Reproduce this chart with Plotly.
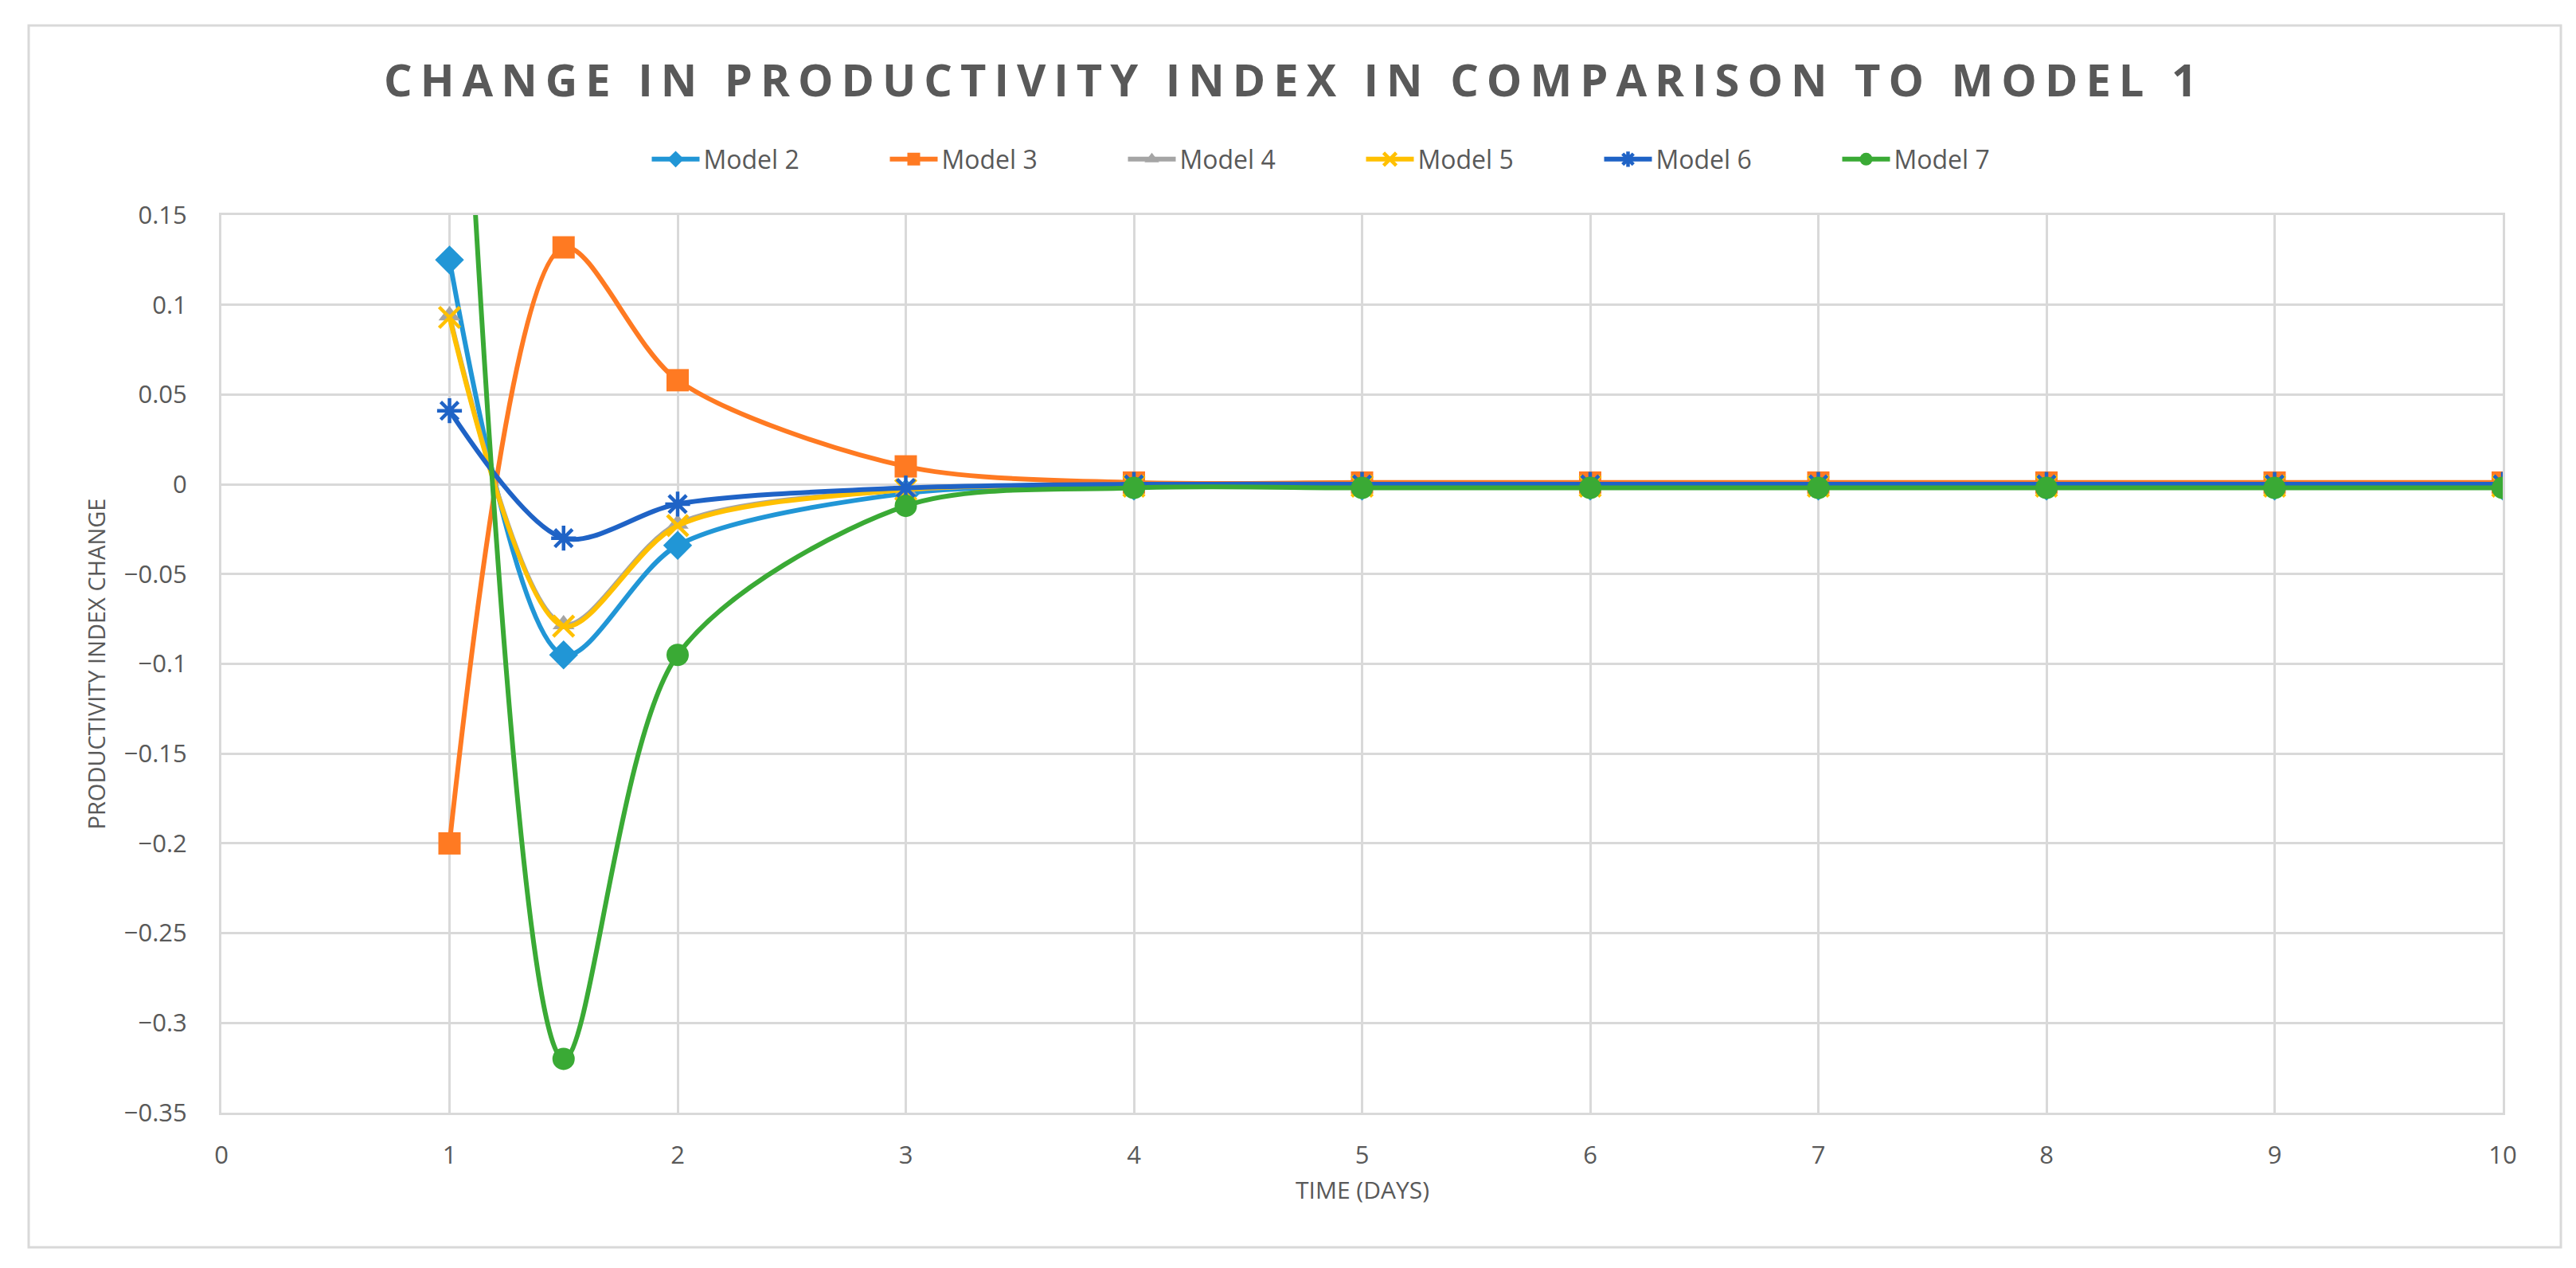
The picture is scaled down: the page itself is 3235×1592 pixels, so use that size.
import plotly.graph_objects as go

# ---- data ----
days = [1, 1.5, 2, 3, 4, 5, 6, 7, 8, 9, 10]
model2 = [0.125, -0.095, -0.034, -0.005, -0.001, -0.001, -0.001, -0.001, -0.001, -0.001, -0.001]
model3 = [-0.200, 0.132, 0.058, 0.010, 0.001, 0.001, 0.001, 0.001, 0.001, 0.001, 0.001]
model4 = [0.094, -0.078, -0.022, -0.003, -0.001, -0.001, -0.001, -0.001, -0.001, -0.001, -0.001]
model5 = [0.093, -0.079, -0.023, -0.003, -0.001, -0.001, -0.001, -0.001, -0.001, -0.001, -0.001]
model6 = [0.041, -0.030, -0.011, -0.002, 0.000, 0.000, 0.000, 0.000, 0.000, 0.000, 0.000]
model7 = [0.420, -0.320, -0.095, -0.012, -0.002, -0.002, -0.002, -0.002, -0.002, -0.002, -0.002]

series_names = ["Model 2", "Model 3", "Model 4", "Model 5", "Model 6", "Model 7"]
series_values = [model2, model3, model4, model5, model6, model7]
x_ticks = list(range(0, 11))
y_ticks = [0.15, 0.1, 0.05, 0, -0.05, -0.1, -0.15, -0.2, -0.25, -0.3, -0.35]

colors = ["#2196D6", "#FF7A22", "#A5A5A5", "#FFC000", "#1F63C6", "#3AAA35"]
symbols = ["diamond", "square", "triangle-up", "x-thin", "asterisk", "circle"]
sizes = [28, 28, 24, 26, 26, 28]

TXT = "#595959"
GRID = "#D9D9D9"
FONT = "Open Sans"

fig = go.Figure()
for name, vals, c, s, sz in zip(series_names, series_values, colors, symbols, sizes):
    thin = s in ("x-thin", "asterisk")
    fig.add_trace(go.Scatter(
        x=days, y=vals, name=name, mode="lines+markers",
        line=dict(color=c, width=6, shape="spline", smoothing=0.85),
        marker=dict(symbol=s, size=sz, color=c,
                    line=dict(color=c, width=4.5 if thin else 0)),
    ))

W, H = 3235, 1592
L, R, T, B = 270, 100, 262, 203
pw, ph = W - L - R, H - T - B

def px_x(px):
    return (px - L) / pw

def px_y(py):
    return (H - B - py) / ph

fig.update_layout(
    width=W, height=H,
    margin=dict(l=L, r=R, t=T, b=B),
    paper_bgcolor="white", plot_bgcolor="white",
    font=dict(family=FONT, color=TXT, size=30),
    title=dict(
        text='<span style="letter-spacing:10px">CHANGE IN PRODUCTIVITY INDEX IN COMPARISON TO MODEL 1</span>',
        x=0.5, xanchor="center", xref="container",
        y=1 - 93 / H, yanchor="middle", yref="container",
        font=dict(family=FONT, size=56, color=TXT, weight="bold"),
    ),
    legend=dict(
        orientation="h", x=0.5, xanchor="center", y=px_y(192), yanchor="middle",
        font=dict(family=FONT, size=32, color=TXT),
        entrywidth=224, entrywidthmode="pixels",
        itemwidth=60, bgcolor="rgba(0,0,0,0)",
    ),
    xaxis=dict(
        range=[0, 10], tickvals=x_ticks, showgrid=True, gridcolor=GRID, gridwidth=3,
        zeroline=False, showline=True, linecolor=GRID, linewidth=3, mirror=True,
        tickfont=dict(family=FONT, size=31, color=TXT), ticklabelstandoff=24,
    ),
    yaxis=dict(
        range=[-0.35, 0.15], tickvals=y_ticks, showgrid=True, gridcolor=GRID, gridwidth=3,
        zeroline=False, showline=True, linecolor=GRID, linewidth=3, mirror=True,
        tickfont=dict(family=FONT, size=31, color=TXT), ticklabelstandoff=34,
    ),
    annotations=[
        dict(text="TIME (DAYS)", xref="paper", yref="paper", x=0.5, y=px_y(1485),
             xanchor="center", yanchor="middle", showarrow=False,
             font=dict(family=FONT, size=30, color=TXT)),
        dict(text="PRODUCTIVITY INDEX CHANGE", xref="paper", yref="paper",
             x=px_x(112), y=0.5, textangle=-90, xanchor="center", yanchor="middle",
             showarrow=False, font=dict(family=FONT, size=29, color=TXT)),
    ],
    shapes=[
        dict(type="rect", xref="paper", yref="paper",
             x0=px_x(28), x1=px_x(3208), y0=px_y(1558), y1=px_y(24),
             line=dict(color=GRID, width=3), fillcolor="rgba(0,0,0,0)", layer="below"),
    ],
)

fig.write_html("out.html")
